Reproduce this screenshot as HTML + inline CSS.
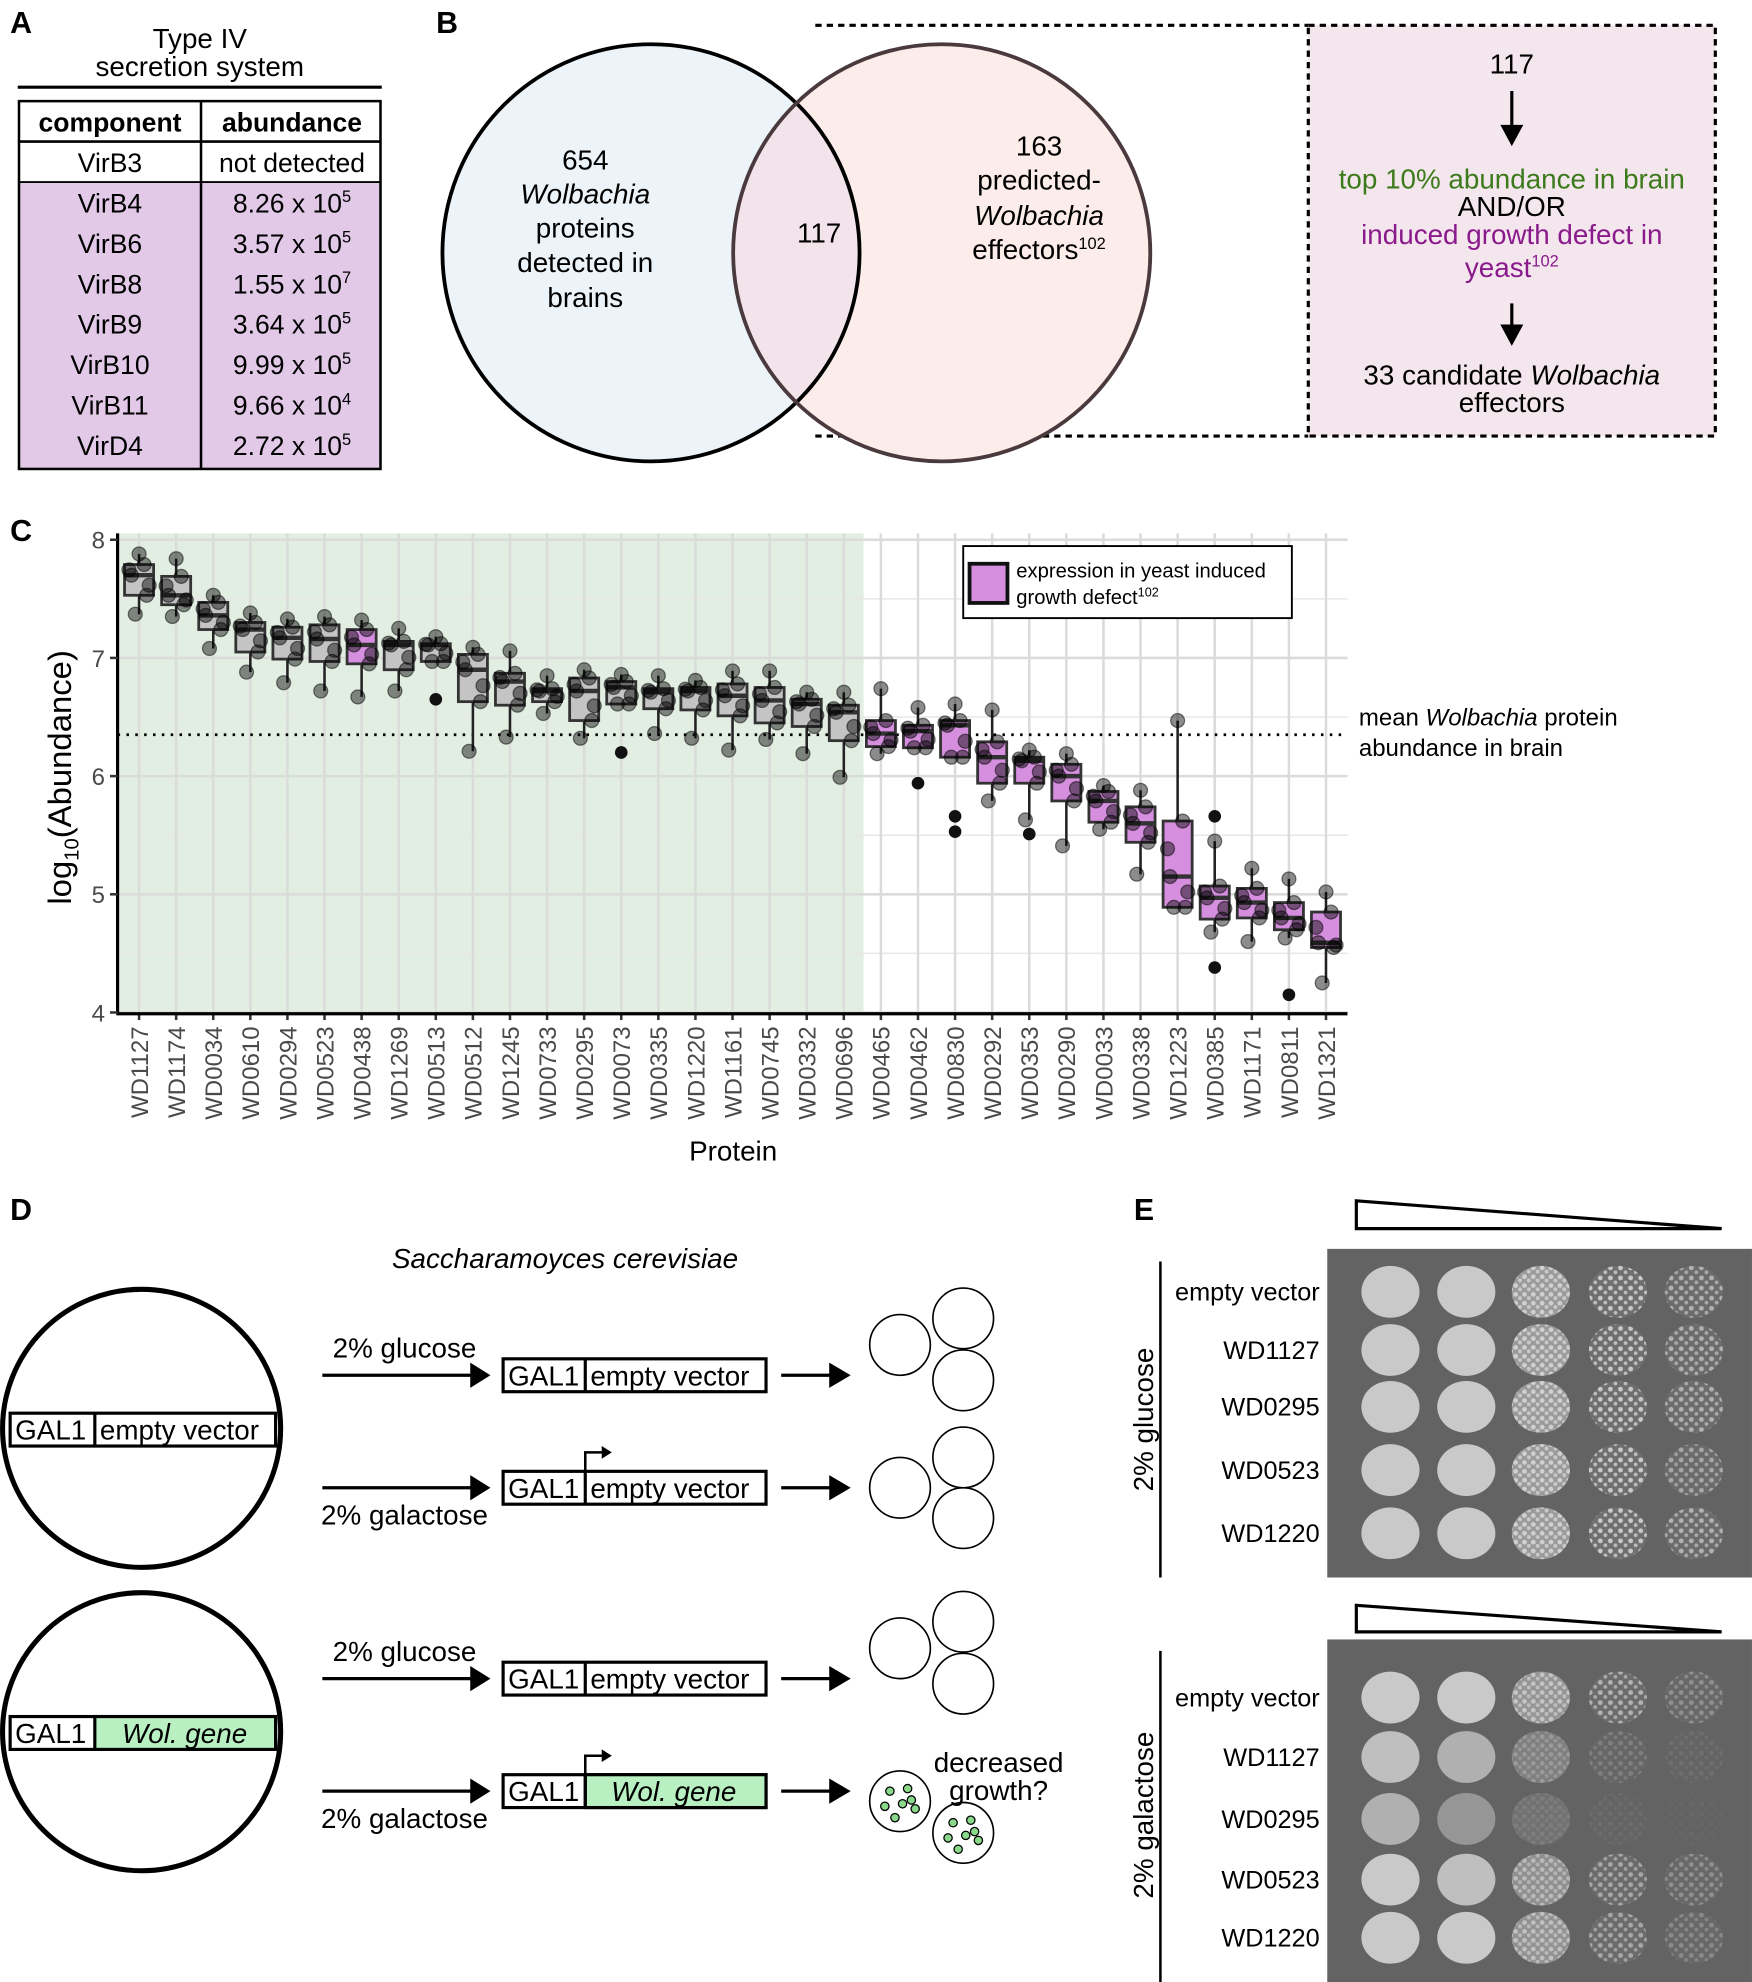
<!DOCTYPE html>
<html><head><meta charset="utf-8"><style>
html,body{margin:0;padding:0;background:#fff}
svg{display:block;font-family:"Liberation Sans",Arial,sans-serif}
</style></head><body>
<svg id="fig" width="1752" height="1982" viewBox="0 0 1386 1568" xmlns="http://www.w3.org/2000/svg">
<defs>
<pattern id="speck" width="7" height="7" patternUnits="userSpaceOnUse"><rect width="7" height="7" fill="#9a9a9a"/><circle cx="2" cy="2" r="1.9" fill="#d0d0d0"/><circle cx="5.5" cy="5" r="1.6" fill="#c8c8c8"/></pattern>
<pattern id="speck2" width="8" height="8" patternUnits="userSpaceOnUse"><rect width="8" height="8" fill="#707070"/><circle cx="2" cy="3" r="1.9" fill="#d4d4d4"/><circle cx="6" cy="6.5" r="1.5" fill="#c8c8c8"/></pattern>
</defs>

<!-- Panel A -->
<g>
<text x="8" y="26" font-size="24" font-weight="bold">A</text>
<text x="158" y="38" font-size="22" text-anchor="middle">Type IV</text>
<text x="158" y="60" font-size="22" text-anchor="middle">secretion system</text>
<line x1="14" y1="69" x2="302" y2="69" stroke="#000" stroke-width="2.5"/>
<rect x="15" y="144" width="286" height="227" fill="#e1c9e7"/>
<rect x="15" y="80" width="286" height="291" fill="none" stroke="#000" stroke-width="2"/>
<line x1="15" y1="112" x2="301" y2="112" stroke="#000" stroke-width="2"/>
<line x1="15" y1="144" x2="301" y2="144" stroke="#000" stroke-width="1.5"/>
<line x1="159" y1="80" x2="159" y2="371" stroke="#000" stroke-width="2"/>
<g font-size="21" text-anchor="middle">
<text x="87" y="104" font-weight="bold">component</text><text x="231" y="104" font-weight="bold">abundance</text>
<text x="87" y="136">VirB3</text><text x="231" y="136">not detected</text>
<text x="87" y="168">VirB4</text><text x="231" y="168">8.26 x 10<tspan font-size="13" dy="-8">5</tspan></text>
<text x="87" y="200">VirB6</text><text x="231" y="200">3.57 x 10<tspan font-size="13" dy="-8">5</tspan></text>
<text x="87" y="232">VirB8</text><text x="231" y="232">1.55 x 10<tspan font-size="13" dy="-8">7</tspan></text>
<text x="87" y="264">VirB9</text><text x="231" y="264">3.64 x 10<tspan font-size="13" dy="-8">5</tspan></text>
<text x="87" y="296">VirB10</text><text x="231" y="296">9.99 x 10<tspan font-size="13" dy="-8">5</tspan></text>
<text x="87" y="328">VirB11</text><text x="231" y="328">9.66 x 10<tspan font-size="13" dy="-8">4</tspan></text>
<text x="87" y="360">VirD4</text><text x="231" y="360">2.72 x 10<tspan font-size="13" dy="-8">5</tspan></text>
</g>
</g>

<!-- Panel B -->
<g>
<text x="345" y="26" font-size="24" font-weight="bold">B</text>
<path d="M645,20 H1035 M645,345 H1035" stroke="#000" stroke-width="2.5" stroke-dasharray="5,4" fill="none"/>
<rect x="1035" y="20" width="322" height="325" fill="#f3e6ec" stroke="#000" stroke-width="2.5" stroke-dasharray="5,4"/>
<circle cx="515" cy="200" r="165" fill="#ecf4f9"/>
<circle cx="745" cy="200" r="165" fill="#fcecea"/>
<clipPath id="cl"><circle cx="515" cy="200" r="165"/></clipPath>
<circle cx="745" cy="200" r="165" fill="#f2e4ea" clip-path="url(#cl)"/>
<circle cx="515" cy="200" r="165" fill="none" stroke="#000" stroke-width="3"/>
<circle cx="745" cy="200" r="165" fill="none" stroke="#4a3a3e" stroke-width="3"/>
<g font-size="22" text-anchor="middle">
<text x="463" y="134">654</text><text x="463" y="161" font-style="italic">Wolbachia</text><text x="463" y="188">proteins</text><text x="463" y="215">detected in</text><text x="463" y="243">brains</text>
<text x="648" y="192">117</text>
<text x="822" y="123">163</text><text x="822" y="150">predicted-</text><text x="822" y="178" font-style="italic">Wolbachia</text><text x="822" y="205">effectors<tspan font-size="13" dy="-8">102</tspan></text>
<text x="1196" y="58">117</text>
<text x="1196" y="149" fill="#3c7a1c">top 10% abundance in brain</text>
<text x="1196" y="171">AND/OR</text>
<text x="1196" y="193" fill="#8a1a8c">induced growth defect in</text>
<text x="1196" y="219" fill="#8a1a8c">yeast<tspan font-size="13" dy="-8">102</tspan></text>
<text x="1196" y="304">33 candidate <tspan font-style="italic">Wolbachia</tspan></text>
<text x="1196" y="326">effectors</text>
</g>
<path d="M1196,72 V108 M1189,100 L1196,113 L1203,100 Z M1196,240 V266 M1189,258 L1196,271 L1203,258 Z" stroke="#000" stroke-width="2.5" fill="#000"/>
</g>

<!-- Panel C -->
<g id="chartC">
<text x="8" y="428" font-size="24" font-weight="bold">C</text>
<text transform="translate(56,615) rotate(-90)" font-size="26" text-anchor="middle">log<tspan font-size="16" dy="6">10</tspan><tspan dy="-6">(Abundance)</tspan></text>
<text x="580" y="918" font-size="22" text-anchor="middle">Protein</text>
<text x="1075" y="574" font-size="19">mean <tspan font-style="italic">Wolbachia</tspan> protein</text>
<text x="1075" y="598" font-size="19">abundance in brain</text>
</g>
<g>
<rect x="762" y="432" width="260" height="57" fill="#fff" stroke="#000" stroke-width="1.5"/>
<rect x="767" y="446" width="30" height="31" fill="#d58fde" stroke="#111" stroke-width="3"/>
<text x="804" y="457" font-size="16">expression in yeast induced</text>
<text x="804" y="478" font-size="16">growth defect<tspan font-size="10" dy="-6">102</tspan></text>
</g>

<!-- Panel D -->
<g font-size="22">
<text x="8" y="965" font-size="24" font-weight="bold">D</text>
<text x="447" y="1003" text-anchor="middle" font-style="italic">Saccharamoyces cerevisiae</text>
<circle cx="112" cy="1130" r="110" fill="none" stroke="#000" stroke-width="4"/>
<circle cx="112" cy="1370" r="110" fill="none" stroke="#000" stroke-width="4"/>
<rect x="8" y="1118" width="210" height="26" fill="#fff" stroke="#000" stroke-width="2.5"/><line x1="75" y1="1118" x2="75" y2="1144" stroke="#000" stroke-width="2.5"/>
<text x="12" y="1139">GAL1</text><text x="79" y="1139">empty vector</text>
<rect x="8" y="1358" width="210" height="26" fill="#fff" stroke="#000" stroke-width="2.5"/><rect x="75" y="1358" width="143" height="26" fill="#b8f0c2" stroke="#000" stroke-width="2.5"/>
<text x="12" y="1379">GAL1</text><text x="146" y="1379" text-anchor="middle" font-style="italic">Wol. gene</text>
<g id="drows"></g>
</g>

<!-- Panel E -->
<g>
<text x="897" y="965" font-size="24" font-weight="bold">E</text>
<polygon points="1073,950 1073,972 1362,972" fill="#fff" stroke="#000" stroke-width="2.5"/>
<polygon points="1073,1270 1073,1291 1362,1291" fill="#fff" stroke="#000" stroke-width="2.5"/>
<rect x="1050" y="988" width="336" height="260" fill="#636363"/>
<rect x="1050" y="1297" width="336" height="271" fill="#636363"/>
<line x1="918" y1="998" x2="918" y2="1248" stroke="#000" stroke-width="2"/>
<line x1="918" y1="1306" x2="918" y2="1568" stroke="#000" stroke-width="2"/>
<text transform="translate(912,1123) rotate(-90)" font-size="22" text-anchor="middle">2% glucose</text>
<text transform="translate(912,1436) rotate(-90)" font-size="22" text-anchor="middle">2% galactose</text>
<g id="spots"></g>
</g>

<script>
// ---------- Panel C data ----------
var proteins = ["WD1127","WD1174","WD0034","WD0610","WD0294","WD0523","WD0438","WD1269","WD0513","WD0512","WD1245","WD0733","WD0295","WD0073","WD0335","WD1220","WD1161","WD0745","WD0332","WD0696","WD0465","WD0462","WD0830","WD0292","WD0353","WD0290","WD0033","WD0338","WD1223","WD0385","WD1171","WD0811","WD1321"];
var q1 = [7.53,7.45,7.24,7.05,6.99,6.97,6.95,6.90,6.97,6.63,6.60,6.63,6.47,6.61,6.57,6.56,6.51,6.45,6.42,6.30,6.25,6.24,6.16,5.94,5.94,5.79,5.61,5.44,4.89,4.79,4.80,4.70,4.55];
var medians = [7.70,7.53,7.36,7.24,7.17,7.16,7.11,7.11,7.11,6.90,6.80,6.72,6.72,6.75,6.71,6.72,6.68,6.64,6.61,6.54,6.36,6.38,6.43,6.16,6.13,6.00,5.79,5.60,5.15,4.97,4.93,4.80,4.59];
var q3 = [7.79,7.69,7.47,7.30,7.26,7.28,7.24,7.14,7.12,7.03,6.87,6.74,6.83,6.80,6.74,6.75,6.78,6.75,6.65,6.60,6.47,6.43,6.47,6.29,6.16,6.10,5.87,5.74,5.62,5.07,5.05,4.93,4.85];
var whiskLo = [7.37,7.35,7.08,6.88,6.79,6.72,6.67,6.72,6.97,6.21,6.33,6.53,6.32,6.61,6.36,6.32,6.22,6.31,6.19,5.99,6.19,6.24,6.16,5.79,5.63,5.41,5.55,5.17,4.89,4.68,4.60,4.63,4.25];
var whiskHi = [7.88,7.84,7.53,7.38,7.33,7.35,7.32,7.25,7.18,7.09,7.06,6.85,6.90,6.86,6.85,6.81,6.89,6.89,6.71,6.71,6.74,6.58,6.61,6.56,6.22,6.19,5.92,5.88,6.47,5.45,5.22,5.13,5.02];
var growthDefect = [0,0,0,0,0,0,1,0,0,0,0,0,0,0,0,0,0,0,0,0,1,1,1,1,1,1,1,1,1,1,1,1,1];
var outliers = [[],[],[],[],[],[],[],[],[6.65],[],[],[],[],[6.20],[],[],[],[],[],[],[],[5.94],[5.66,5.53],[],[5.51],[],[],[],[],[5.66,4.38],[],[4.15],[]];
var yTicks = [4,5,6,7,8];
var meanAbundance = 6.35;
var greenCount = 20;

var NS = "http://www.w3.org/2000/svg";
var chart = document.getElementById("chartC");
function mk(tag, attrs, parent){var e=document.createElementNS(NS,tag);for(var k in attrs)e.setAttribute(k,attrs[k]);(parent||chart).appendChild(e);return e;}
var X0=93, X1=1066, Y0=422, YB=801;
function yS(v){return YB-(v-4)*93.5;}
function xS(i){return 110+i*(1049-110)/(proteins.length-1);}
var layer = mk("g",{});
chart.insertBefore(layer, chart.children[1]);

var gbg = mk("rect",{x:X0,y:Y0,width:xS(greenCount-0.5)-X0+1,height:YB-Y0,fill:"#e3eee3"},layer);


for(var v=4; v<=8.001; v+=0.5){
  var gl = mk("line",{x1:X0,x2:X1,y1:yS(v),y2:yS(v),stroke:(v%1===0)?"#d9dcd9":"#e6e8e6","stroke-width":(v%1===0)?2:1.2},layer);
  
  
}
proteins.forEach(function(p,i){
  var vl = mk("line",{x1:xS(i),x2:xS(i),y1:Y0,y2:YB,stroke:"#d9dcd9","stroke-width":2},layer);
  
  
});
var ml = mk("line",{x1:X0,x2:X1,y1:yS(meanAbundance),y2:yS(meanAbundance),stroke:"#000","stroke-width":2.2,"stroke-dasharray":"2,5"},layer);


var bw=23;
proteins.forEach(function(p,i){
  var x=xS(i);
  var g = mk("g",{},layer);
  
  
  mk("line",{x1:x,x2:x,y1:yS(whiskLo[i]),y2:yS(whiskHi[i]),stroke:"#222","stroke-width":2},g);
  mk("rect",{x:x-bw/2,y:yS(q3[i]),width:bw,height:yS(q1[i])-yS(q3[i]),fill:growthDefect[i]?"#d58fde":"#c4c4c4",stroke:"#333","stroke-width":2.2},g);
  mk("line",{x1:x-bw/2,x2:x+bw/2,y1:yS(medians[i]),y2:yS(medians[i]),stroke:"#333","stroke-width":3.5},g);
  outliers[i].forEach(function(o){ mk("circle",{cx:x,cy:yS(o),r:5,fill:"#111"},g); });
  var pts=[whiskLo[i],q1[i],medians[i],q3[i],whiskHi[i],(q1[i]+medians[i])/2,(medians[i]+q3[i])/2];
  var offs=[-3,6,-6,4,0,8,-8];
  pts.forEach(function(pv,k){ mk("circle",{cx:x+offs[k],cy:yS(pv),r:5.5,fill:"#000","fill-opacity":0.45,stroke:"#000","stroke-opacity":0.5},g); });
  var t = mk("text",{transform:"translate("+(x+7)+",812) rotate(-90)","font-size":19,fill:"#4a4a4a","text-anchor":"end"},layer);
  t.textContent=p;
  
  
  mk("line",{x1:x,x2:x,y1:YB,y2:YB+6,stroke:"#333","stroke-width":2},layer);
});
mk("line",{x1:X0,x2:X0,y1:Y0,y2:YB+1,stroke:"#000","stroke-width":2.5},layer);
mk("line",{x1:X0-1,x2:X1,y1:YB+1,y2:YB+1,stroke:"#000","stroke-width":2.5},layer);
yTicks.forEach(function(t){
  mk("line",{x1:X0-6,x2:X0,y1:yS(t),y2:yS(t),stroke:"#333","stroke-width":2},layer);
  var tx=mk("text",{x:X0-10,y:yS(t)+7,"font-size":19,fill:"#4a4a4a","text-anchor":"end"},layer);
  tx.textContent=t;
  
  
});

// ---------- Panel D rows ----------
var drows=document.getElementById("drows");
var rowY=[1088,1177,1328,1417];
var rowMedia=["2% glucose","2% galactose","2% glucose","2% galactose"];
rowY.forEach(function(y,r){
  var g=mk("g",{},drows);
  
  
  mk("path",{d:"M255,"+y+" H378",stroke:"#000","stroke-width":2.5},g);
  mk("polygon",{points:"372,"+(y-10)+" 388,"+y+" 372,"+(y+10),fill:"#000"},g);
  var lab=mk("text",{x:320,y:(r%2===0)?y-14:y+29,"text-anchor":"middle","font-size":22},g); lab.textContent=rowMedia[r];
  mk("rect",{x:398,y:y-13,width:208,height:26,fill:"#fff",stroke:"#000","stroke-width":2.5},g);
  if(r===3) mk("rect",{x:463,y:y-13,width:143,height:26,fill:"#b8f0c2",stroke:"#000","stroke-width":2.5},g);
  mk("line",{x1:463,x2:463,y1:y-13,y2:y+13,stroke:"#000","stroke-width":2.5},g);
  var t1=mk("text",{x:402,y:y+8,"font-size":22},g); t1.textContent="GAL1";
  var t2=mk("text",{x:r===3?533:467,y:y+8,"font-size":22,"text-anchor":r===3?"middle":"start","font-style":r===3?"italic":"normal"},g); t2.textContent=r===3?"Wol. gene":"empty vector";
  if(r%2===1){ mk("path",{d:"M463,"+(y-13)+" V"+(y-28)+" H478",stroke:"#000","stroke-width":2,fill:"none"},g);
    mk("polygon",{points:"476,"+(y-33)+" 484,"+(y-28)+" 476,"+(y-23),fill:"#000"},g); }
  mk("path",{d:"M618,"+y+" H662",stroke:"#000","stroke-width":2.5},g);
  mk("polygon",{points:"656,"+(y-10)+" 673,"+y+" 656,"+(y+10),fill:"#000"},g);
  if(r<3){
    var cc = (r===1) ? [[712,y],[762,y-24],[762,y+24]] : [[712,y-24],[762,y-45],[762,y+4]];
    cc.forEach(function(c){ mk("circle",{cx:c[0],cy:c[1],r:24,fill:"#fff",stroke:"#000","stroke-width":1.3},g); });
  } else {
    [[712,y+8],[762,y+33]].forEach(function(c){
      mk("circle",{cx:c[0],cy:c[1],r:24,fill:"#fff",stroke:"#000","stroke-width":1.3},g);
      [[-8,-8],[6,-10],[-12,4],[2,2],[12,6],[-4,13],[9,-1]].forEach(function(d){ mk("circle",{cx:c[0]+d[0],cy:c[1]+d[1],r:3.3,fill:"#8ad88a",stroke:"#000","stroke-width":1},g); });
    });
    var d1=mk("text",{x:790,y:1402,"font-size":22,"text-anchor":"middle"},g); d1.textContent="decreased";
    var d2=mk("text",{x:790,y:1424,"font-size":22,"text-anchor":"middle"},g); d2.textContent="growth?";
  }
});

// ---------- Panel E spots ----------
var strains=["empty vector","WD1127","WD0295","WD0523","WD1220"];
var glucoseGrowth=[[1,1,1,0.9,0.7],[1,1,1,0.9,0.7],[1,1,1,0.9,0.7],[1,1,1,0.9,0.6],[1,1,1,0.9,0.7]];
var galactoseGrowth=[[1,1,0.9,0.7,0.4],[0.9,0.75,0.5,0.25,0.1],[0.75,0.5,0.25,0.08,0.03],[1,0.9,0.8,0.6,0.4],[1,1,0.85,0.6,0.35]];
var spots=document.getElementById("spots");
var colX=[1100,1160,1219,1280,1340];
function plate(rowsY, growth, tag){
  rowsY.forEach(function(y,r){
    var lt=mk("text",{x:1044,y:y+7,"font-size":20,"text-anchor":"end"},spots); lt.textContent=strains[r];
    
    
    colX.forEach(function(x,c){
      var gv=growth[r][c];
      var s=mk("ellipse",{cx:x,cy:y,rx:23,ry:20.5,fill:c>=3?"url(#speck2)":(c===2?"url(#speck)":"#c9c9c9"),"fill-opacity":gv},spots);
      
      
    });
  });
}
plate([1022,1068,1113,1163,1213],glucoseGrowth,"glucose");
plate([1343,1390,1439,1487,1533],galactoseGrowth,"galactose");
</script>
</svg>
</body></html>
